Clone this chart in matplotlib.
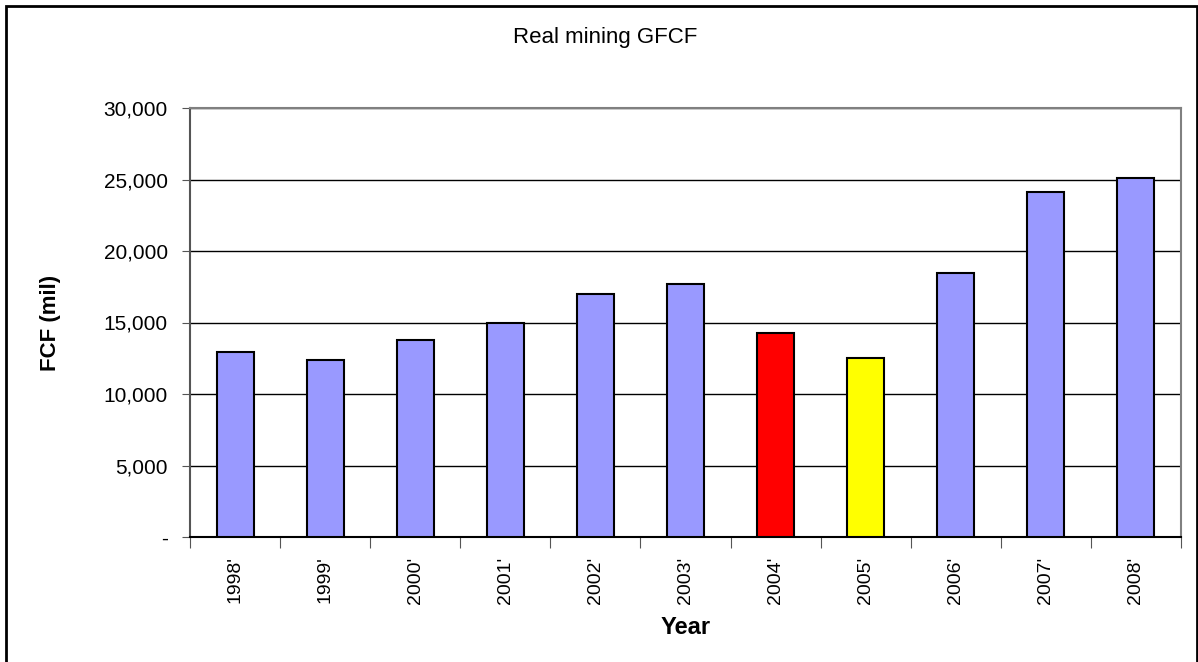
import matplotlib.pyplot as plt
from matplotlib.patches import Rectangle
from matplotlib.ticker import FuncFormatter

plt.rcParams['font.family'] = ['Liberation Sans', 'DejaVu Sans']

years = ["1998'", "1999'", "2000'", "2001'", "2002'", "2003'",
         "2004'", "2005'", "2006'", "2007'", "2008'"]
gfcf = [12950, 12350, 13800, 15000, 17000, 17700,
        14250, 12500, 18450, 24150, 25100]
colours = ['#9999FF'] * 6 + ['#FF0000', '#FFFF00'] + ['#9999FF'] * 3

W, H = 1198, 662
fig = plt.figure(figsize=(W / 100, H / 100), dpi=100)
ax = fig.add_axes([190 / W, 1 - 537 / H, (1181 - 190) / W, (537 - 108) / H])

x = range(len(years))
ax.bar(x, gfcf, width=0.41, color=colours, edgecolor='black', linewidth=1.5, zorder=3)

ax.set_xlim(-0.5, len(years) - 0.5)
ax.set_ylim(0, 30000)
ax.set_yticks(range(0, 30001, 5000))
ax.yaxis.set_major_formatter(FuncFormatter(lambda v, p: '-' if v == 0 else f'{int(v):,}'))
ax.grid(axis='y', color='black', linewidth=1, zorder=0)

# ticks sit between categories, labels under the bars
ax.set_xticks([i - 0.5 for i in range(len(years) + 1)], minor=False)
ax.set_xticklabels([])
ax.set_xticks(list(x), minor=True)
ax.set_xticklabels(years, minor=True, rotation=90, fontsize=14)
ax.tick_params(axis='x', which='minor', length=0, pad=14)
ax.tick_params(axis='x', which='major', length=8, color='#555555', direction='out')
ax.tick_params(axis='y', length=6, color='#555555', labelsize=15, pad=10)

for s in ax.spines.values():
    s.set_color('#808080')
    s.set_linewidth(1.5)
ax.spines['bottom'].set_color('black')
ax.spines['left'].set_color('#555555')

ax.set_ylabel('FCF (mil)', fontsize=16, fontweight='bold')
ax.yaxis.set_label_coords(-0.141, 0.5)
ax.set_xlabel('Year', fontsize=17, fontweight='bold')
ax.xaxis.set_label_coords(0.5, -0.21)
ax.xaxis.label.set_va('center')
ax.yaxis.label.set_va('center')
fig.text(605 / W, 1 - 38 / H, 'Real mining GFCF', ha='center', va='center', fontsize=16)

fig.patches.append(Rectangle((6 / W, -0.05), (1197 - 6) / W, 1 - 6 / H + 0.05,
                             transform=fig.transFigure, fill=False,
                             edgecolor='black', linewidth=2))

fig.savefig('out.png', dpi=100)
